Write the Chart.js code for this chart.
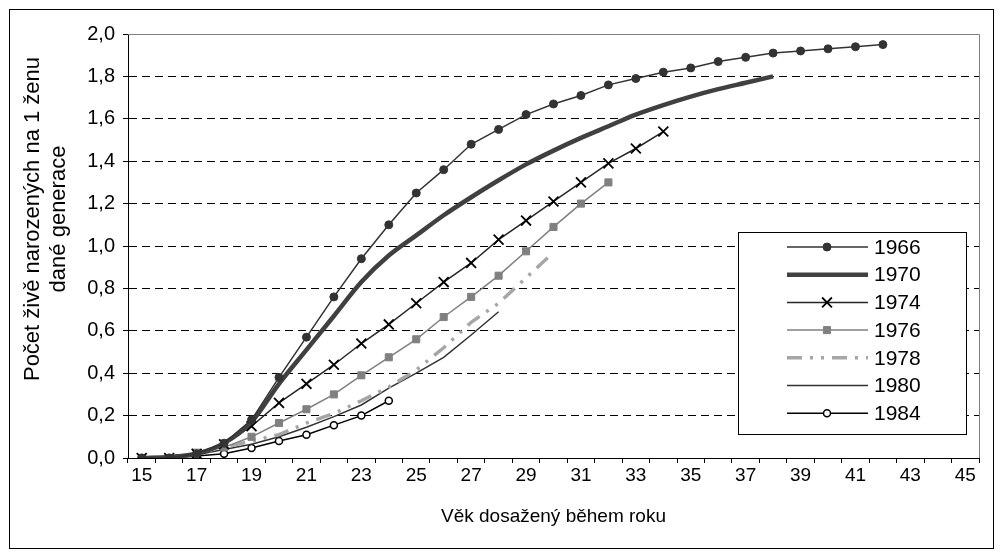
<!DOCTYPE html>
<html>
<head>
<meta charset="utf-8">
<script src="https://cdn.jsdelivr.net/npm/chart.js@4/dist/chart.umd.min.js"></script>
<style>
  html, body { margin: 0; padding: 0; background: #fff; }
  canvas { display: block; }
</style>
</head>
<body>
<canvas id="chart" width="1003" height="556"></canvas>
<script>
// Age categories (x axis)
const ages = [];
for (let a = 15; a <= 45; a++) ages.push(String(a));

// Cumulative fertility per generation
const gen1966 = [0.00, 0.00, 0.02, 0.07, 0.18, 0.38, 0.57, 0.76, 0.94, 1.10, 1.25, 1.36, 1.48, 1.55, 1.62, 1.67, 1.71, 1.76, 1.79, 1.82, 1.84, 1.87, 1.89, 1.91, 1.92, 1.93, 1.94, 1.95];
const gen1970 = [0.00, 0.005, 0.02, 0.07, 0.17, 0.35, 0.51, 0.67, 0.83, 0.955, 1.05, 1.145, 1.23, 1.31, 1.385, 1.45, 1.51, 1.565, 1.62, 1.665, 1.705, 1.74, 1.77, 1.80];
const gen1974 = [0.00, 0.00, 0.02, 0.065, 0.15, 0.26, 0.35, 0.44, 0.54, 0.63, 0.73, 0.83, 0.92, 1.03, 1.12, 1.21, 1.30, 1.39, 1.46, 1.54];
const gen1976 = [0.00, 0.00, 0.025, 0.05, 0.10, 0.165, 0.23, 0.30, 0.39, 0.475, 0.56, 0.665, 0.76, 0.86, 0.975, 1.09, 1.20, 1.30];
const gen1978 = [0.00, 0.00, 0.02, 0.05, 0.08, 0.11, 0.165, 0.21, 0.27, 0.335, 0.415, 0.52, 0.64, 0.73, 0.85, 0.97];
const gen1980 = [0.00, 0.00, 0.015, 0.04, 0.065, 0.10, 0.145, 0.195, 0.25, 0.33, 0.40, 0.475, 0.58, 0.69];
const gen1984 = [0.00, 0.00, 0.01, 0.02, 0.047, 0.08, 0.11, 0.155, 0.20, 0.27];

const seriesNames = ['1966', '1970', '1974', '1976', '1978', '1980', '1984'];
const yTitleLines = ['Počet živě narozených na 1 ženu', 'dané generace'];

const FONT = "'Liberation Sans', Arial, sans-serif";

// Draws one marker the same way for plot and legend
function drawMarker(ctx, ds, x, y) {
  const r = ds.pointRadius;
  if (!r) return;
  ctx.save();
  ctx.setLineDash([]);
  ctx.lineWidth = ds.pointBorderWidth || 1;
  ctx.strokeStyle = ds.pointBorderColor;
  ctx.fillStyle = ds.pointBackgroundColor;
  ctx.beginPath();
  if (ds.pointStyle === 'crossRot') {
    ctx.moveTo(x - r * 0.7, y - r * 0.7); ctx.lineTo(x + r * 0.7, y + r * 0.7);
    ctx.moveTo(x + r * 0.7, y - r * 0.7); ctx.lineTo(x - r * 0.7, y + r * 0.7);
    ctx.stroke();
  } else if (ds.pointStyle === 'rect') {
    const s = r * Math.SQRT1_2;
    ctx.rect(x - s, y - s, 2 * s, 2 * s);
    ctx.fill(); ctx.stroke();
  } else {
    ctx.arc(x, y, r, 0, Math.PI * 2);
    ctx.fill(); ctx.stroke();
  }
  ctx.restore();
}

// Background, outer frame, plot-area border and the y axis title
const framePlugin = {
  id: 'frame',
  beforeDraw(chart) {
    const ctx = chart.ctx;
    ctx.save();
    ctx.fillStyle = '#fff';
    ctx.fillRect(0, 0, chart.width, chart.height);
    ctx.strokeStyle = '#000';
    ctx.lineWidth = 1;
    ctx.strokeRect(9.5, 9.5, 984, 539);

    // y title sits a bit above the plot centre, as in the original
    ctx.translate(0, 219);
    ctx.rotate(-Math.PI / 2);
    ctx.fillStyle = '#000';
    ctx.font = '22px ' + FONT;
    ctx.textAlign = 'center';
    ctx.textBaseline = 'middle';
    ctx.fillText(yTitleLines[0], 0, 33);
    ctx.fillText(yTitleLines[1], 0, 59);
    ctx.restore();
  },
  beforeDatasetsDraw(chart) {
    const {ctx, chartArea: a} = chart;
    ctx.save();
    ctx.strokeStyle = '#808080';
    ctx.lineWidth = 1;
    ctx.beginPath();
    ctx.moveTo(a.left, Math.round(a.top) + 0.5);
    ctx.lineTo(Math.round(a.right) + 0.5, Math.round(a.top) + 0.5);
    ctx.lineTo(Math.round(a.right) + 0.5, a.bottom);
    ctx.stroke();
    ctx.restore();
  }
};

// Legend box inside the plot, line sample with marker in the middle
const legendPlugin = {
  id: 'lineLegend',
  afterDatasetsDraw(chart) {
    const ctx = chart.ctx;
    ctx.save();
    ctx.fillStyle = '#fff';
    ctx.fillRect(738.5, 232.5, 228, 202);
    ctx.strokeStyle = '#000';
    ctx.lineWidth = 1;
    ctx.strokeRect(738.5, 232.5, 228, 202);
    chart.data.datasets.forEach((ds, i) => {
      const y = 247 + i * 27.7;
      ctx.save();
      ctx.strokeStyle = ds.borderColor;
      ctx.lineWidth = ds.borderWidth;
      ctx.setLineDash(ds.borderDash || []);
      ctx.beginPath();
      ctx.moveTo(787, y);
      ctx.lineTo(868, y);
      ctx.stroke();
      ctx.restore();
      drawMarker(ctx, ds, 827, y);
      ctx.fillStyle = '#000';
      ctx.font = '21px ' + FONT;
      ctx.textBaseline = 'middle';
      ctx.textAlign = 'left';
      ctx.fillText(ds.label, 874, y + 1);
    });
    ctx.restore();
  }
};

new Chart(document.getElementById('chart'), {
  type: 'line',
  data: {
    labels: ages,
    datasets: [
      {
        label: seriesNames[0], data: gen1966,
        borderColor: '#333', borderWidth: 1.5,
        pointStyle: 'circle', pointRadius: 4, pointBackgroundColor: '#333', pointBorderColor: '#333', pointBorderWidth: 1
      },
      {
        label: seriesNames[1], data: gen1970,
        borderColor: '#404040', borderWidth: 4.5, cubicInterpolationMode: 'monotone',
        pointRadius: 0
      },
      {
        label: seriesNames[2], data: gen1974,
        borderColor: '#262626', borderWidth: 1.5,
        pointStyle: 'crossRot', pointRadius: 7, pointBackgroundColor: '#000', pointBorderColor: '#000', pointBorderWidth: 1.8
      },
      {
        label: seriesNames[3], data: gen1976,
        borderColor: '#808080', borderWidth: 1.5,
        pointStyle: 'rect', pointRadius: 5, pointBackgroundColor: '#808080', pointBorderColor: '#808080', pointBorderWidth: 1
      },
      {
        label: seriesNames[4], data: gen1978,
        borderColor: '#a6a6a6', borderWidth: 3.5, borderDash: [15, 8, 3, 8, 3, 8],
        pointRadius: 0
      },
      {
        label: seriesNames[5], data: gen1980,
        borderColor: '#333', borderWidth: 1.5,
        pointRadius: 0
      },
      {
        label: seriesNames[6], data: gen1984,
        borderColor: '#000', borderWidth: 1.5,
        pointStyle: 'circle', pointRadius: 3.5, pointBackgroundColor: '#fff', pointBorderColor: '#000', pointBorderWidth: 1.5
      }
    ]
  },
  options: {
    responsive: false,
    animation: false,
    devicePixelRatio: 1,
    layout: { padding: { left: 10, right: 24, top: 34, bottom: 16 } },
    plugins: {
      legend: { display: false },
      tooltip: { enabled: false }
    },
    elements: { line: { tension: 0, fill: false } },
    scales: {
      x: {
        type: 'category',
        offset: true,
        grid: { display: true, drawOnChartArea: false, drawTicks: true, tickLength: 5, offset: true, color: '#000', tickColor: '#000' },
        border: { display: true, color: '#000', width: 1 },
        ticks: {
          autoSkip: false, maxRotation: 0, minRotation: 0, padding: 1,
          color: '#000', font: { family: FONT, size: 19 },
          callback(value, index) { return index % 2 === 0 ? this.getLabelForValue(value) : ''; }
        },
        title: {
          display: true, text: 'Věk dosažený během roku', color: '#000',
          font: { family: FONT, size: 19 }, padding: { top: 0, bottom: 12 }
        },
        afterFit(scale) { scale.height = 82; }
      },
      y: {
        min: 0, max: 2,
        grid: { color: '#000', lineWidth: 1, tickLength: 5, tickColor: '#000' },
        border: { display: true, color: '#000', width: 1, dash: [8, 5] },
        ticks: {
          stepSize: 0.2, padding: 8, color: '#000', font: { family: FONT, size: 20 },
          callback(value) { return value.toFixed(1).replace('.', ','); }
        },
        afterFit(scale) { scale.width = 118; }
      }
    }
  },
  plugins: [framePlugin, legendPlugin]
});
</script>
</body>
</html>
